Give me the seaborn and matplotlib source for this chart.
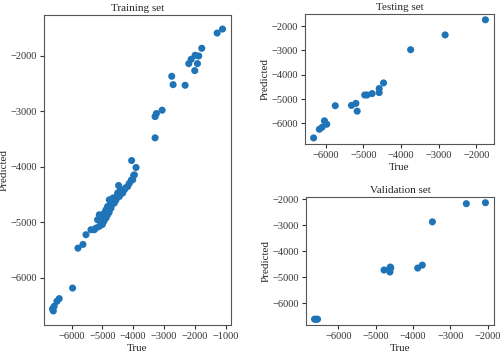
import numpy as np
import pandas as pd
import matplotlib
matplotlib.use("Agg")
import matplotlib.pyplot as plt
import seaborn as sns

# ------------------------------------------
# Data
# ------------------------------------------
train_true = [-1107, -1280, -1779, -1994, -1877, -2123, -2201, -1919, -2006, -2753,
              -2708, -2318, -3065, -3250, -3292, -3292, -4052, -3909, -3987, -3964,
              -4019, -4474, -4182, -4289, -4396, -4506, -4344, -4451, -4558, -4669,
              -4776, -4721, -4614, -4831, -4721, -4883, -4938, -5101, -4831, -5045,
              -4883, -5156, -4994, -5101, -5208, -5263, -5370, -5532, -5630, -5792,
              -5966, -6399, -6474, -6617, -6562, -6590, -4600, -4700, -4650, -4500,
              -4420, -4560, -4780, -4950, -5000, -4250, -4130, -4062]
train_pred = [-1514, -1586, -1861, -1987, -2000, -2060, -2138, -2138, -2264, -2366,
              -2517, -2528, -2978, -3039, -3093, -3477, -3886, -4012, -4157, -4144,
              -4234, -4337, -4355, -4414, -4432, -4474, -4474, -4535, -4564, -4595,
              -4595, -4654, -4654, -4715, -4745, -4775, -4835, -4865, -4865, -4924,
              -4924, -4955, -5014, -5075, -5105, -5135, -5135, -5225, -5400, -5467,
              -6187, -6378, -6427, -6564, -6517, -6600, -4620, -4690, -4560, -4500,
              -4420, -4600, -4820, -4980, -5040, -4380, -4300, -4240]

test_true = [-1755, -2826, -3743, -4463, -4579, -4579, -4767, -4902, -4964, -5199,
             -5316, -5164, -5747, -6035, -5973, -6097, -6170, -6323]
test_pred = [-1739, -2360, -2968, -4333, -4565, -4731, -4772, -4830, -4830, -5174,
             -5257, -5493, -5269, -5890, -6031, -6155, -6238, -6593]

val_true = [-2062, -2574, -3483, -3753, -3876, -4598, -4643, -4778, -4620, -4610,
            -6639, -6558, -6600]
val_pred = [-2139, -2177, -2873, -4535, -4648, -4648, -4700, -4725, -4800, -4610,
            -6612, -6612, -6612]

# ------------------------------------------
# Style
# ------------------------------------------
sns.set_style("ticks")
plt.rcParams["font.family"] = ["Liberation Serif", "DejaVu Serif"]
plt.rcParams["axes.edgecolor"] = "#555555"
plt.rcParams["xtick.color"] = "#333333"
plt.rcParams["ytick.color"] = "#333333"

color = "#1f74b8"

fig = plt.figure(figsize=(5.0, 3.56), dpi=100)
ax_train = fig.add_axes([0.088, 0.087, 0.374, 0.871])
ax_test = fig.add_axes([0.61, 0.596, 0.378, 0.365])
ax_val = fig.add_axes([0.612, 0.087, 0.376, 0.36])

sets = [
    (ax_train, train_true, train_pred, "Training set"),
    (ax_test, test_true, test_pred, "Testing set"),
    (ax_val, val_true, val_pred, "Validation set"),
]

for ax, t, p, title in sets:
    df = pd.DataFrame({"True": t, "Predicted": p})
    sns.scatterplot(data=df, x="True", y="Predicted", ax=ax, color=color,
                    s=26, edgecolor="none", linewidth=0)
    ax.set_title(title, fontsize=8, pad=3)
    ax.set_xlabel("True", fontsize=8, labelpad=2)
    ax.set_ylabel("Predicted", fontsize=8, labelpad=1)
    ax.tick_params(labelsize=7.5, length=3, pad=2)
    for sp in ax.spines.values():
        sp.set_visible(True)
        sp.set_linewidth(0.8)

ax_train.set_xticks([-6000, -5000, -4000, -3000, -2000, -1000])
ax_train.set_yticks([-6000, -5000, -4000, -3000, -2000])
ax_test.set_xticks([-6000, -5000, -4000, -3000, -2000])
ax_test.set_yticks([-6000, -5000, -4000, -3000, -2000])
ax_val.set_xticks([-6000, -5000, -4000, -3000, -2000])
ax_val.set_yticks([-6000, -5000, -4000, -3000, -2000])

plt.savefig("out.png", dpi=100)
